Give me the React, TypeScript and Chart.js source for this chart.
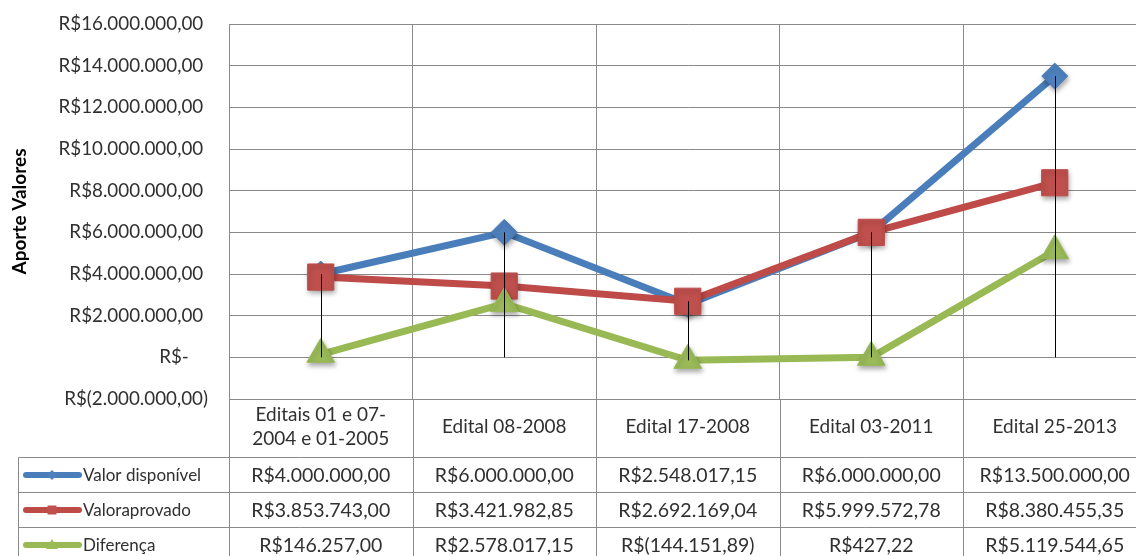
import React, { useEffect, useRef } from "react";
import { Chart, registerables } from "chart.js";
Chart.register(...registerables);

const categories: (string | string[])[] = [
  ["Editais 01 e 07-", "2004 e 01-2005"],
  "Edital 08-2008",
  "Edital 17-2008",
  "Edital 03-2011",
  "Edital 25-2013",
];
const valorDisponivel = [4000000.0, 6000000.0, 2548017.15, 6000000.0, 13500000.0];
const valorAprovado = [3853743.0, 3421982.85, 2692169.04, 5999572.78, 8380455.35];
const diferenca = [146257.0, 2578017.15, -144151.89, 427.22, 5119544.65];
const seriesNames = ["Valor disponível", "Valoraprovado", "Diferença"];
const yMin = -2000000;
const yMax = 16000000;
const yStep = 2000000;
const axisTitle = "Aporte Valores";

const FONT = "Lato, 'Noto Sans', sans-serif";
const TEXT = "#303030";
const GRID = "#8a8a8a";
const lineColors = ["#4A7EBB", "#BE4B48", "#98B954"];
const fillColors = ["#4F81BD", "#C0504D", "#9BBB59"];

function brl(v: number): string {
  if (v === 0) return "R$-";
  const abs = Math.abs(v);
  const [ip, dp] = abs.toFixed(2).split(".");
  const grouped = ip.replace(/\B(?=(\d{3})+(?!\d))/g, ".");
  const s = grouped + "," + dp;
  return v < 0 ? "R$(" + s + ")" : "R$" + s;
}

const allSeries = [valorDisponivel, valorAprovado, diferenca];

const dropLinesPlugin = {
  id: "dropLines",
  afterDatasetsDraw(chart: any) {
    const { ctx, scales } = chart;
    const x = scales.x;
    const y = scales.y;
    ctx.save();
    ctx.strokeStyle = "#000000";
    ctx.lineWidth = 1;
    for (let i = 0; i < categories.length; i++) {
      const vals = allSeries.map((s) => s[i]);
      const hi = Math.max(...vals);
      const lo = Math.min(0, ...vals);
      const px = Math.round(x.getPixelForValue(i)) + 0.5;
      ctx.beginPath();
      ctx.moveTo(px, y.getPixelForValue(hi));
      ctx.lineTo(px, y.getPixelForValue(lo));
      ctx.stroke();
    }
    ctx.restore();
  },
};

const shadowPlugin = {
  id: "markerShadow",
  beforeDatasetDraw(chart: any, args: any) {
    const ds = chart.data.datasets[args.index];
    if (ds._markers) {
      const ctx = chart.ctx;
      ctx.save();
      ctx.shadowColor = "rgba(0,0,0,0.35)";
      ctx.shadowBlur = 5;
      ctx.shadowOffsetX = 1;
      ctx.shadowOffsetY = 3;
    }
  },
  afterDatasetDraw(chart: any, args: any) {
    const ds = chart.data.datasets[args.index];
    if (ds._markers) chart.ctx.restore();
  },
};

function drawMiniMarker(ctx: CanvasRenderingContext2D, k: number, cx: number, cy: number) {
  ctx.fillStyle = fillColors[k];
  ctx.beginPath();
  if (k === 0) {
    const r = 5;
    ctx.moveTo(cx - r, cy);
    ctx.lineTo(cx, cy - r);
    ctx.lineTo(cx + r, cy);
    ctx.lineTo(cx, cy + r);
  } else if (k === 1) {
    ctx.rect(cx - 4.5, cy - 4.5, 9, 9);
  } else {
    ctx.moveTo(cx, cy - 6);
    ctx.lineTo(cx + 6, cy + 4);
    ctx.lineTo(cx - 6, cy + 4);
  }
  ctx.closePath();
  ctx.fill();
}

const tablePlugin = {
  id: "dataTable",
  afterDraw(chart: any) {
    const { ctx, scales, chartArea } = chart;
    const x = scales.x;
    const n = categories.length;
    const bounds: number[] = [];
    for (let i = 0; i <= n; i++) bounds.push(Math.round(x.getPixelForValue(i - 0.5)) + 0.5);
    const headerTop = chartArea.bottom;
    const headerBottom = Math.round(chartArea.bottom + x.height) + 0.5;
    const rowH = 35;
    const tableLeft = 18.5;
    const tableBottom = headerBottom + rowH * 3;
    ctx.save();
    ctx.strokeStyle = GRID;
    ctx.lineWidth = 1;
    ctx.beginPath();
    for (const b of bounds) {
      ctx.moveTo(b, headerTop);
      ctx.lineTo(b, tableBottom);
    }
    ctx.moveTo(tableLeft, headerBottom);
    ctx.lineTo(tableLeft, tableBottom);
    for (let r = 0; r <= 3; r++) {
      const yy = headerBottom + r * rowH;
      ctx.moveTo(tableLeft, yy);
      ctx.lineTo(bounds[n], yy);
    }
    ctx.stroke();

    ctx.fillStyle = TEXT;
    ctx.textBaseline = "middle";
    for (let r = 0; r < 3; r++) {
      const cy = headerBottom + r * rowH + rowH / 2;
      // legend key
      ctx.strokeStyle = lineColors[r];
      ctx.lineWidth = 6;
      ctx.lineCap = "round";
      ctx.beginPath();
      ctx.moveTo(26, cy);
      ctx.lineTo(79, cy);
      ctx.stroke();
      drawMiniMarker(ctx, r, 52, cy);
      ctx.fillStyle = TEXT;
      ctx.textAlign = "left";
      ctx.font = `17px ${FONT}`;
      ctx.fillText(seriesNames[r], 83, cy + 1);
      ctx.textAlign = "center";
      ctx.font = `19.5px ${FONT}`;
      for (let i = 0; i < n; i++) {
        ctx.fillText(brl(allSeries[r][i]), x.getPixelForValue(i), cy + 1);
      }
    }
    ctx.restore();
  },
};

export default function App() {
  const ref = useRef<HTMLCanvasElement | null>(null);
  useEffect(() => {
    document.body.style.margin = "0";
    if (!ref.current) return;
    const pointStyles = ["rectRot", "rect", "triangle"];
    const radii = [13, 18.5, 16];
    const datasets: any[] = [];
    allSeries.forEach((s, k) => {
      datasets.push({
        label: seriesNames[k],
        data: s,
        borderColor: lineColors[k],
        borderWidth: 7,
        pointRadius: 0,
        fill: false,
        tension: 0,
        order: 10 - k * 2,
      });
      datasets.push({
        label: seriesNames[k] + " marker",
        data: s,
        showLine: false,
        pointStyle: pointStyles[k],
        pointRadius: radii[k],
        pointBackgroundColor: fillColors[k],
        pointBorderColor: lineColors[k],
        pointBorderWidth: 1,
        order: 9 - k * 2,
        _markers: true,
      });
    });
    const chart = new Chart(ref.current, {
      type: "line",
      data: { labels: categories as any, datasets },
      options: {
        animation: false,
        responsive: false,
        devicePixelRatio: 1,
        layout: { padding: { left: 0, right: 0, top: 24, bottom: 99 } },
        plugins: { legend: { display: false }, tooltip: { enabled: false } },
        scales: {
          x: {
            offset: true,
            grid: { offset: true, color: GRID, drawTicks: false },
            border: { color: GRID },
            ticks: {
              autoSkip: false,
              maxRotation: 0,
              minRotation: 0,
              crossAlign: "center",
              padding: 16,
              color: TEXT,
              font: { family: FONT, size: 19, lineHeight: 1.28 },
            },
            afterFit: (s: any) => {
              s.height = 58;
              s.paddingLeft = 0;
              s.paddingRight = 0;
            },
          },
          y: {
            min: yMin,
            max: yMax,
            grid: { color: GRID, drawTicks: false },
            border: { color: GRID },
            ticks: {
              stepSize: yStep,
              padding: 21,
              color: TEXT,
              font: { family: FONT, size: 18.8 },
              callback: (v: any) => {
                const n = Number(v);
                if (n === 0) return "R$-    ";
                if (n > 0) return brl(n) + " ";
                return brl(n);
              },
            },
            title: {
              display: true,
              text: axisTitle,
              color: "#000000",
              font: { family: FONT, size: 19, weight: "bold" },
              padding: { top: 8, bottom: 0 },
            },
            afterFit: (s: any) => {
              s.width = 229;
              s.paddingTop = 0;
              s.paddingBottom = 0;
            },
          },
        },
      } as any,
      plugins: [shadowPlugin, dropLinesPlugin, tablePlugin],
    });
    return () => chart.destroy();
  }, []);
  return (
    <div style={{ width: 1136, height: 556, overflow: "hidden", background: "#fff" }}>
      <canvas ref={ref} width={1166} height={556} style={{ display: "block" }} />
    </div>
  );
}
